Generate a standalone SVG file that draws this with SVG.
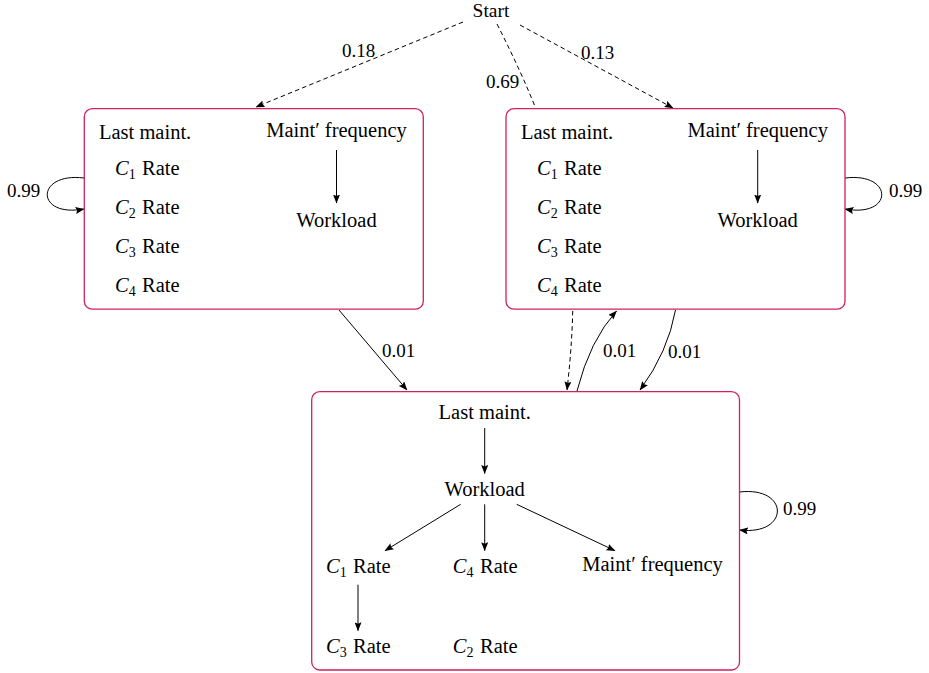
<svg xmlns="http://www.w3.org/2000/svg" width="929" height="673" viewBox="0 0 929 673">
<style>
text { font-family: "Liberation Serif", "Times New Roman", serif; font-size: 20.5px; fill: #000; }
.lbl { font-size: 19px; }
.mid { text-anchor: middle; }
.box { fill: #fff; stroke: #d0215a; stroke-width: 1.3; }
.edge { fill: none; stroke: #000; stroke-width: 1; }
.dash { stroke-dasharray: 4.5 3.2; }
.arr { marker-end: url(#ah); }
.it { font-style: italic; }
.sub { font-size: 14px; }
</style>
<defs>
<marker id="ah" markerWidth="9" markerHeight="7" refX="8.5" refY="3.5" orient="auto" markerUnits="userSpaceOnUse">
<path d="M0,0 L9,3.5 L0,7 L1.5,3.5 Z" fill="#000"/>
</marker>
</defs>

<g id="connectors">
<path class="edge dash arr" d="M463,22 L256,107"/>
<path class="edge dash arr" d="M520,25 L673,108"/>
<path class="edge dash arr" d="M497,24 C565,158 584,241 567,390"/>
<path class="edge arr" d="M339,310 L407,390"/>
<path class="edge arr" d="M577,391 Q590,340 616.5,311"/>
<path class="edge arr" d="M675.5,310 Q668,352 640,390"/>
<path class="edge arr" d="M84,178 C35,172 35,218 84,209"/>
<path class="edge arr" d="M845,178 C894,172 894,218 845,209"/>
<path class="edge arr" d="M739.5,492 C790,486 790,536 739.5,530"/>
</g>

<g id="labels">
<text class="lbl" x="491" y="17" text-anchor="middle" style="font-size:19.5px">Start</text>
<text class="lbl" x="342" y="57">0.18</text>
<text class="lbl" x="486" y="88">0.69</text>
<text class="lbl" x="581" y="59">0.13</text>
<text class="lbl" x="7" y="197">0.99</text>
<text class="lbl" x="889" y="197">0.99</text>
<text class="lbl" x="382" y="357">0.01</text>
<text class="lbl" x="603" y="357">0.01</text>
<text class="lbl" x="668" y="358">0.01</text>
<text class="lbl" x="783" y="515">0.99</text>
</g>

<g id="node1">
<rect class="box" x="84.3" y="108.7" width="339" height="200.5" rx="8"/>
<text x="99" y="139">Last maint.</text>
<text class="mid" x="336.5" y="137">Maint′ frequency</text>
<path class="edge arr" d="M336.5,150 L336.5,203"/>
<text class="mid" x="336.5" y="227">Workload</text>
<text x="115" y="175"><tspan class="it">C</tspan><tspan class="sub" dy="4">1</tspan><tspan x="142" dy="-4">Rate</tspan></text>
<text x="115" y="214"><tspan class="it">C</tspan><tspan class="sub" dy="4">2</tspan><tspan x="142" dy="-4">Rate</tspan></text>
<text x="115" y="253"><tspan class="it">C</tspan><tspan class="sub" dy="4">3</tspan><tspan x="142" dy="-4">Rate</tspan></text>
<text x="115" y="292"><tspan class="it">C</tspan><tspan class="sub" dy="4">4</tspan><tspan x="142" dy="-4">Rate</tspan></text>
</g>

<g id="node2">
<rect class="box" x="506" y="108.7" width="339" height="200.5" rx="8"/>
<text x="521" y="139">Last maint.</text>
<text class="mid" x="757.7" y="137">Maint′ frequency</text>
<path class="edge arr" d="M757.7,150 L757.7,203"/>
<text class="mid" x="757.7" y="227">Workload</text>
<text x="537" y="175"><tspan class="it">C</tspan><tspan class="sub" dy="4">1</tspan><tspan x="564" dy="-4">Rate</tspan></text>
<text x="537" y="214"><tspan class="it">C</tspan><tspan class="sub" dy="4">2</tspan><tspan x="564" dy="-4">Rate</tspan></text>
<text x="537" y="253"><tspan class="it">C</tspan><tspan class="sub" dy="4">3</tspan><tspan x="564" dy="-4">Rate</tspan></text>
<text x="537" y="292"><tspan class="it">C</tspan><tspan class="sub" dy="4">4</tspan><tspan x="564" dy="-4">Rate</tspan></text>
</g>

<g id="node3">
<rect class="box" x="311.7" y="391.7" width="427.8" height="278.3" rx="8"/>
<text class="mid" x="484.7" y="419">Last maint.</text>
<path class="edge arr" d="M484.7,428 L484.7,473.5"/>
<text class="mid" x="484.7" y="496">Workload</text>
<path class="edge arr" d="M460.7,504.3 L385,550.7"/>
<path class="edge arr" d="M484.7,504.3 L484.7,550.7"/>
<path class="edge arr" d="M516.7,504.3 L615,550.7"/>
<text x="326" y="573"><tspan class="it">C</tspan><tspan class="sub" dy="4">1</tspan><tspan x="353" dy="-4">Rate</tspan></text>
<text x="452.7" y="573"><tspan class="it">C</tspan><tspan class="sub" dy="4">4</tspan><tspan x="480" dy="-4">Rate</tspan></text>
<text class="mid" x="652.5" y="571">Maint′ frequency</text>
<path class="edge arr" d="M358,584.7 L358,630.7"/>
<text x="326" y="653"><tspan class="it">C</tspan><tspan class="sub" dy="4">3</tspan><tspan x="353" dy="-4">Rate</tspan></text>
<text x="452.7" y="653"><tspan class="it">C</tspan><tspan class="sub" dy="4">2</tspan><tspan x="480" dy="-4">Rate</tspan></text>
</g>
</svg>
